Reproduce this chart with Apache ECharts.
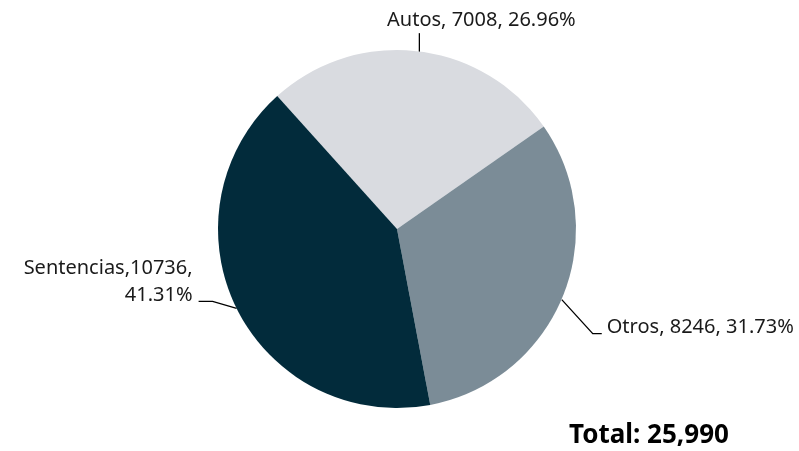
<!DOCTYPE html>
<html>
<head>
<meta charset="utf-8">
<script src="https://cdn.jsdelivr.net/npm/echarts@6/dist/echarts.min.js"></script>
<style>
  html, body { margin: 0; padding: 0; background: #fff; }
  #main { width: 799px; height: 451px; }
</style>
</head>
<body>
<div id="main"></div>
<script>
// datos del gráfico
const categories = ['Autos', 'Otros', 'Sentencias'];
const values = [7008, 8246, 10736];
const colors = ['#d9dbe0', '#7b8c97', '#022b3b'];

const total = values.reduce((a, b) => a + b, 0);
const font = '"Noto Sans", sans-serif';

const CENTER = [397, 229];
const RADIUS = 179;
const START = 132;

// punto del borde en la mitad de cada sector (para las líneas guía)
function anchorOf(idx) {
    let before = 0;
    for (let i = 0; i < idx; i++) before += values[i];
    const mid = (START - 360 * (before + values[idx] / 2) / total) * Math.PI / 180;
    return [CENTER[0] + RADIUS * Math.cos(mid), CENTER[1] - RADIUS * Math.sin(mid)];
}

const chart = echarts.init(document.getElementById('main'));

const option = {
    animation: false,
    // total abajo a la derecha
    title: {
        text: 'Total: ' + total.toLocaleString('en-US'),
        left: 564,
        top: 418,
        textStyle: {
            fontFamily: font,
            fontSize: 26,
            fontWeight: 'bold',
            color: '#000'
        }
    },
    series: [
        {
            type: 'pie',
            center: CENTER,
            radius: RADIUS,
            startAngle: START,
            clockwise: true,
            data: categories.map((name, i) => ({
                name: name,
                value: values[i],
                itemStyle: { color: colors[i] }
            })),
            label: {
                show: true,
                position: 'outside',
                fontFamily: font,
                fontSize: 20,
                lineHeight: 27,
                color: '#1a1a1a',
                formatter: p => p.dataIndex === 2
                    ? p.name + ',' + p.value + ',\n' + p.percent.toFixed(2) + '%'
                    : p.name + ', ' + p.value + ', ' + p.percent.toFixed(2) + '%'
            },
            labelLine: {
                show: true,
                length: 10,
                length2: 10,
                lineStyle: { color: '#000', width: 1.3 }
            },
            // posición de las etiquetas como en el original
            labelLayout: function (params) {
                const a = anchorOf(params.dataIndex);
                const x0 = a[0], y0 = a[1];
                if (params.dataIndex === 0) {
                    return {
                        x: x0 + 64, y: y0 - 31, align: 'center', verticalAlign: 'middle',
                        labelLinePoints: [[x0 + 2, y0 + 1], [x0 + 2, y0 - 9], [x0 + 2, y0 - 18]]
                    };
                }
                if (params.dataIndex === 1) {
                    return {
                        x: x0 + 44, y: y0 + 31, align: 'left', verticalAlign: 'middle',
                        labelLinePoints: [[x0 - 1, y0 + 3], [x0 + 30, y0 + 37], [x0 + 39, y0 + 37]]
                    };
                }
                return {
                    x: x0 - 44, y: y0 - 27, align: 'right', verticalAlign: 'middle',
                    labelLinePoints: [[x0, y0], [x0 - 24, y0 - 7], [x0 - 38, y0 - 7]]
                };
            }
        }
    ]
};

chart.setOption(option);
</script>
</body>
</html>
